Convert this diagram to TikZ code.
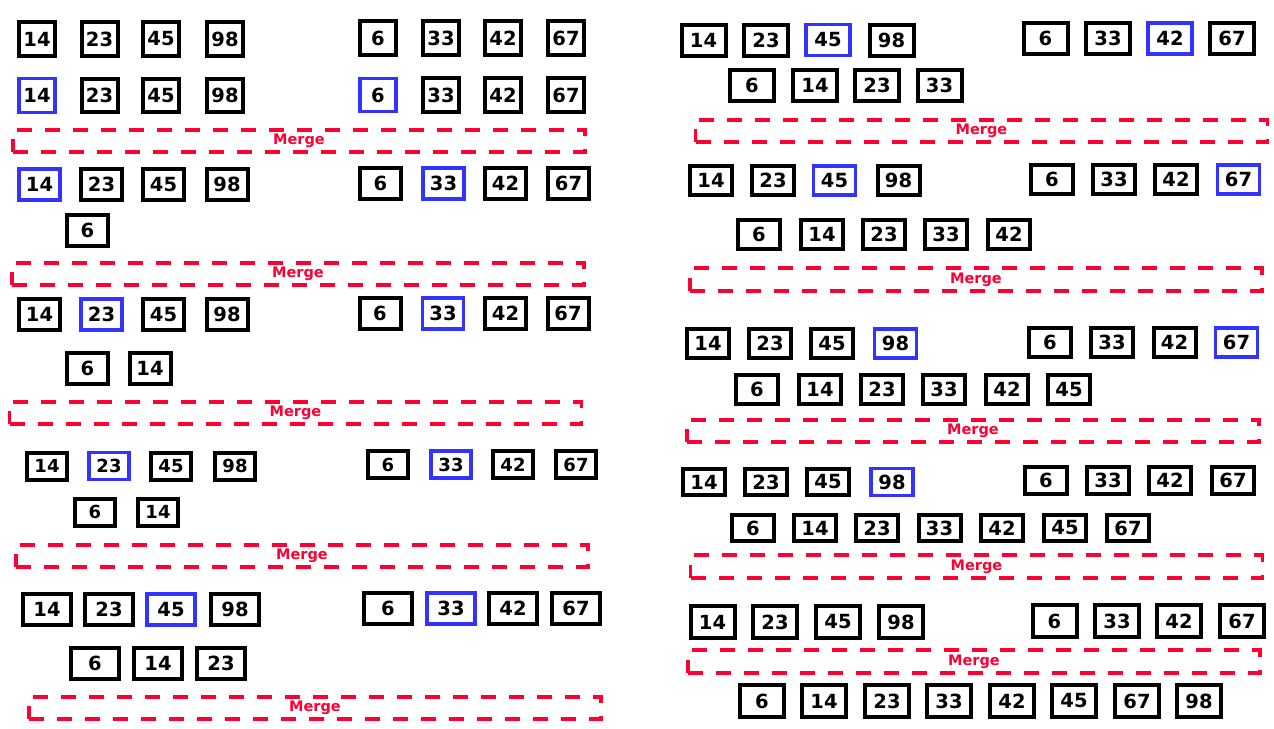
\documentclass[tikz,border=0pt]{standalone}
\usepackage{fontspec}
\setmainfont{DejaVu Sans}
\definecolor{pickblue}{RGB}{51,51,255}
\definecolor{mergered}{RGB}{255,0,51}
\begin{document}
\begin{tikzpicture}[x=1pt, y=-1pt,
  cell/.style = {draw=black, line width=4pt, inner sep=0pt, font=\bfseries\fontsize{19.5}{19.5}\selectfont},
  pick/.style = {draw=pickblue, line width=3.4pt},
  mergebox/.style = {draw=mergered, text=mergered, line width=3.8pt, dash pattern=on 15pt off 13pt,
    minimum width=572pt, minimum height=22.5pt, inner sep=0pt, font=\bfseries\fontsize{14.5}{14.5}\selectfont},
  sa/.style = {cell, minimum width=36pt, minimum height=33.5pt},
  sb/.style = {cell, minimum width=41pt, minimum height=31pt},
  sc/.style = {cell, minimum width=40pt, minimum height=27pt, font=\bfseries\fontsize{18}{18}\selectfont},
  sd/.style = {cell, minimum width=48pt, minimum height=31pt},
  se/.style = {cell, minimum width=44pt, minimum height=31pt},
  sf/.style = {cell, minimum width=42pt, minimum height=29pt},
  sg/.style = {cell, minimum width=42pt, minimum height=26.5pt},
  sh/.style = {cell, minimum width=44pt, minimum height=32pt}]
\useasboundingbox (0,0) rectangle (1274,728);

% left column, step 1
\node[sa] (A1-14) at (37,39) {14};
\node[sa] (A1-23) at (99.5,39) {23};
\node[sa] (A1-45) at (161,39) {45};
\node[sa] (A1-98) at (225,39) {98};
\node[sa] (A1-6) at (378,38) {6};
\node[sa] (A1-33) at (441,38) {33};
\node[sa] (A1-42) at (503,38) {42};
\node[sa] (A1-67) at (566,38) {67};

% step 2
\node[sa,pick] (A2-14) at (37,95.5) {14};
\node[sa] (A2-23) at (99.5,95.5) {23};
\node[sa] (A2-45) at (161,95.5) {45};
\node[sa] (A2-98) at (225,95.5) {98};
\node[sa,pick] (A2-6) at (378,95) {6};
\node[sa] (A2-33) at (441,95) {33};
\node[sa] (A2-42) at (503,95) {42};
\node[sa] (A2-67) at (566,95) {67};
\node[mergebox] (mA2) at (299,141) {Merge};

% step 3
\node[sb,pick] (A3-14) at (39.5,184.5) {14};
\node[sb] (A3-23) at (101.5,184.5) {23};
\node[sb] (A3-45) at (163.5,184.5) {45};
\node[sb] (A3-98) at (227,184.5) {98};
\node[sb] (A3-6) at (380.5,183.5) {6};
\node[sb,pick] (A3-33) at (443.5,183.5) {33};
\node[sb] (A3-42) at (505.5,183.5) {42};
\node[sb] (A3-67) at (568.5,183.5) {67};
\node[sb] (A3o-6) at (87.5,230.5) {6};
\node[mergebox] (mA3) at (298,274) {Merge};

% step 4
\node[sb] (A4-14) at (39.5,314.5) {14};
\node[sb,pick] (A4-23) at (101.5,314.5) {23};
\node[sb] (A4-45) at (163.5,314.5) {45};
\node[sb] (A4-98) at (227,314.5) {98};
\node[sb] (A4-6) at (380,313.5) {6};
\node[sb,pick] (A4-33) at (443,313.5) {33};
\node[sb] (A4-42) at (505.5,313.5) {42};
\node[sb] (A4-67) at (568,313.5) {67};
\node[sb] (A4o-6) at (87.5,368.5) {6};
\node[sb] (A4o-14) at (150,368.5) {14};
\node[mergebox] (mA4) at (295.5,413) {Merge};

% step 5
\node[sc] (A5-14) at (47,466) {14};
\node[sc,pick] (A5-23) at (109,466) {23};
\node[sc] (A5-45) at (171,466) {45};
\node[sc] (A5-98) at (235,466) {98};
\node[sc] (A5-6) at (388,464.5) {6};
\node[sc,pick] (A5-33) at (451,464.5) {33};
\node[sc] (A5-42) at (513,464.5) {42};
\node[sc] (A5-67) at (576,464.5) {67};
\node[sc] (A5o-6) at (95,512) {6};
\node[sc] (A5o-14) at (158,512) {14};
\node[mergebox] (mA5) at (302,556) {Merge};

% step 6
\node[sd] (A6-14) at (47,609.5) {14};
\node[sd] (A6-23) at (109,609.5) {23};
\node[sd,pick] (A6-45) at (171,609.5) {45};
\node[sd] (A6-98) at (235,609.5) {98};
\node[sd] (A6-6) at (388,608.5) {6};
\node[sd,pick] (A6-33) at (451,608.5) {33};
\node[sd] (A6-42) at (513,608.5) {42};
\node[sd] (A6-67) at (576,608.5) {67};
\node[sd] (A6o-6) at (95,663.5) {6};
\node[sd] (A6o-14) at (158,663.5) {14};
\node[sd] (A6o-23) at (221,663.5) {23};
\node[mergebox] (mA6) at (315,708) {Merge};

% right column, step 7
\node[se] (B1-14) at (703.5,40) {14};
\node[se] (B1-23) at (766,40) {23};
\node[se,pick] (B1-45) at (828,40) {45};
\node[se] (B1-98) at (891.5,40) {98};
\node[se] (B1-6) at (1045.5,38.5) {6};
\node[se] (B1-33) at (1108,38.5) {33};
\node[se,pick] (B1-42) at (1170,38.5) {42};
\node[se] (B1-67) at (1232,38.5) {67};
\node[se] (B1o-6) at (752,85.5) {6};
\node[se] (B1o-14) at (815,85.5) {14};
\node[se] (B1o-23) at (877,85.5) {23};
\node[se] (B1o-33) at (939.5,85.5) {33};
\node[mergebox] (mB1) at (981.5,131) {Merge};

% step 8
\node[sf] (B2-14) at (711,180.5) {14};
\node[sf] (B2-23) at (773,180.5) {23};
\node[sf,pick] (B2-45) at (834.5,180.5) {45};
\node[sf] (B2-98) at (898.5,180.5) {98};
\node[sf] (B2-6) at (1052,179.5) {6};
\node[sf] (B2-33) at (1114,179.5) {33};
\node[sf] (B2-42) at (1176,179.5) {42};
\node[sf,pick] (B2-67) at (1238.5,179.5) {67};
\node[sf] (B2o-6) at (759,234.5) {6};
\node[sf] (B2o-14) at (822,234.5) {14};
\node[sf] (B2o-23) at (884,234.5) {23};
\node[sf] (B2o-33) at (946,234.5) {33};
\node[sf] (B2o-42) at (1009,234.5) {42};
\node[mergebox] (mB2) at (976,279.5) {Merge};

% step 9
\node[sf] (B3-14) at (708,343.5) {14};
\node[sf] (B3-23) at (770,343.5) {23};
\node[sf] (B3-45) at (832,343.5) {45};
\node[sf,pick] (B3-98) at (895.5,343.5) {98};
\node[sf] (B3-6) at (1050,342.5) {6};
\node[sf] (B3-33) at (1112,342.5) {33};
\node[sf] (B3-42) at (1174.5,342.5) {42};
\node[sf,pick] (B3-67) at (1236.5,342.5) {67};
\node[sf] (B3o-6) at (757,389.5) {6};
\node[sf] (B3o-14) at (820,389.5) {14};
\node[sf] (B3o-23) at (882,389.5) {23};
\node[sf] (B3o-33) at (944,389.5) {33};
\node[sf] (B3o-42) at (1007,389.5) {42};
\node[sf] (B3o-45) at (1069,389.5) {45};
\node[mergebox] (mB3) at (973,431) {Merge};

% step 10
\node[sg] (B4-14) at (704,482) {14};
\node[sg] (B4-23) at (766,482) {23};
\node[sg] (B4-45) at (828,482) {45};
\node[sg,pick] (B4-98) at (892,482) {98};
\node[sg] (B4-6) at (1046,480.5) {6};
\node[sg] (B4-33) at (1108,480.5) {33};
\node[sg] (B4-42) at (1170,480.5) {42};
\node[sg] (B4-67) at (1233,480.5) {67};
\node[sg] (B4o-6) at (753,528) {6};
\node[sg] (B4o-14) at (815,528) {14};
\node[sg] (B4o-23) at (877,528) {23};
\node[sg] (B4o-33) at (939.5,528) {33};
\node[sg] (B4o-42) at (1002,528) {42};
\node[sg] (B4o-45) at (1065,528) {45};
\node[sg] (B4o-67) at (1128,528) {67};
\node[mergebox] (mB4) at (976.5,566.5) {Merge};

% step 11, all merged
\node[sh] (B5-14) at (712.5,622) {14};
\node[sh] (B5-23) at (775,622) {23};
\node[sh] (B5-45) at (838,622) {45};
\node[sh] (B5-98) at (901,622) {98};
\node[sh] (B5-6) at (1054.5,621) {6};
\node[sh] (B5-33) at (1117,621) {33};
\node[sh] (B5-42) at (1179,621) {42};
\node[sh] (B5-67) at (1242,621) {67};
\node[mergebox] (mB5) at (974,661.5) {Merge};
\node[sh] (Bf-6) at (762,701) {6};
\node[sh] (Bf-14) at (824,701) {14};
\node[sh] (Bf-23) at (887,701) {23};
\node[sh] (Bf-33) at (949,701) {33};
\node[sh] (Bf-42) at (1012,701) {42};
\node[sh] (Bf-45) at (1074,701) {45};
\node[sh] (Bf-67) at (1137,701) {67};
\node[sh] (Bf-98) at (1199,701) {98};
\end{tikzpicture}
\end{document}
